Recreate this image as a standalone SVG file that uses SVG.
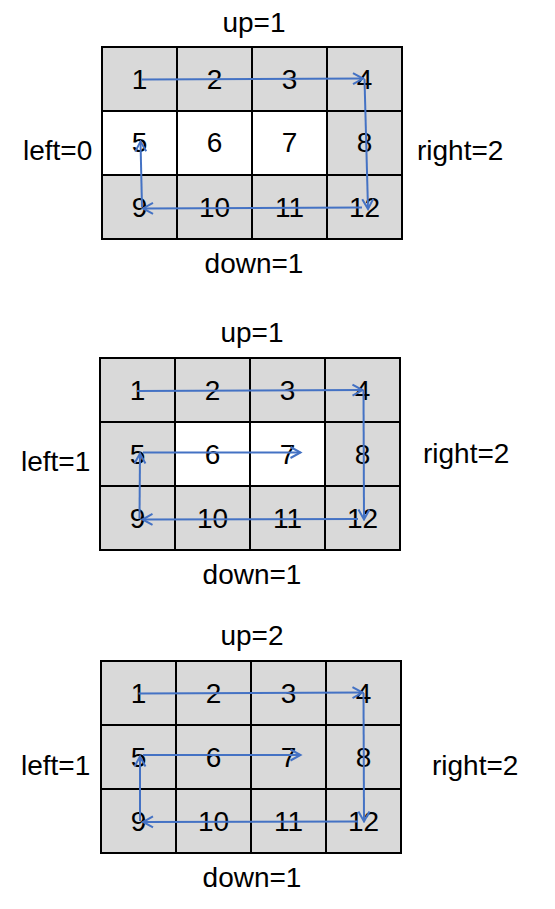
<svg xmlns="http://www.w3.org/2000/svg" width="555" height="909" viewBox="0 0 555 909">
<style>
text{font-family:"Liberation Sans",Arial,sans-serif;font-size:28px;fill:#000}
.n{text-anchor:middle}
.g{fill:#d9d9d9;stroke:#000;stroke-width:2}
.w{fill:#fff;stroke:#000;stroke-width:2}
.a{fill:none;stroke:#4472c4;stroke-width:2;marker-end:url(#ah)}
</style>
<defs>
<marker id="ah" markerUnits="userSpaceOnUse" markerWidth="14" markerHeight="14" refX="12" refY="7" orient="auto">
<path d="M2,1.5 L12,7 L2,12.5" fill="none" stroke="#4472c4" stroke-width="2"/>
</marker>
</defs>
<rect width="555" height="909" fill="#fff"/>

<g id="grid1">
<rect class="g" x="102" y="47" width="75" height="64"/>
<rect class="g" x="177" y="47" width="75" height="64"/>
<rect class="g" x="252" y="47" width="75" height="64"/>
<rect class="g" x="327" y="47" width="75" height="64"/>
<rect class="w" x="102" y="111" width="75" height="64"/>
<rect class="w" x="177" y="111" width="75" height="64"/>
<rect class="w" x="252" y="111" width="75" height="64"/>
<rect class="g" x="327" y="111" width="75" height="64"/>
<rect class="g" x="102" y="175" width="75" height="64"/>
<rect class="g" x="177" y="175" width="75" height="64"/>
<rect class="g" x="252" y="175" width="75" height="64"/>
<rect class="g" x="327" y="175" width="75" height="64"/>
<text class="n" x="139.5" y="89">1</text>
<text class="n" x="214.5" y="89">2</text>
<text class="n" x="289.5" y="89">3</text>
<text class="n" x="364.5" y="89">4</text>
<text class="n" x="139.5" y="152">5</text>
<text class="n" x="214.5" y="152">6</text>
<text class="n" x="289.5" y="152">7</text>
<text class="n" x="364.5" y="152">8</text>
<text class="n" x="139.5" y="217">9</text>
<text class="n" x="214.5" y="217">10</text>
<text class="n" x="289.5" y="217">11</text>
<text class="n" x="364.5" y="217">12</text>
<text class="n" x="254" y="32">up=1</text>
<text class="n" x="254" y="273">down=1</text>
<text x="23" y="160">left=0</text>
<text x="417" y="160">right=2</text>
</g>

<g id="grid2">
<rect class="g" x="100" y="358" width="75" height="64"/>
<rect class="g" x="175" y="358" width="75" height="64"/>
<rect class="g" x="250" y="358" width="75" height="64"/>
<rect class="g" x="325" y="358" width="75" height="64"/>
<rect class="g" x="100" y="422" width="75" height="64"/>
<rect class="w" x="175" y="422" width="75" height="64"/>
<rect class="w" x="250" y="422" width="75" height="64"/>
<rect class="g" x="325" y="422" width="75" height="64"/>
<rect class="g" x="100" y="486" width="75" height="64"/>
<rect class="g" x="175" y="486" width="75" height="64"/>
<rect class="g" x="250" y="486" width="75" height="64"/>
<rect class="g" x="325" y="486" width="75" height="64"/>
<text class="n" x="137.5" y="400">1</text>
<text class="n" x="212.5" y="400">2</text>
<text class="n" x="287.5" y="400">3</text>
<text class="n" x="362.5" y="400">4</text>
<text class="n" x="137.5" y="464">5</text>
<text class="n" x="212.5" y="464">6</text>
<text class="n" x="287.5" y="464">7</text>
<text class="n" x="362.5" y="464">8</text>
<text class="n" x="137.5" y="528">9</text>
<text class="n" x="212.5" y="528">10</text>
<text class="n" x="287.5" y="528">11</text>
<text class="n" x="362.5" y="528">12</text>
<text class="n" x="252" y="342">up=1</text>
<text class="n" x="252" y="584">down=1</text>
<text x="21" y="471">left=1</text>
<text x="423" y="463">right=2</text>
</g>

<g id="grid3">
<rect class="g" x="101" y="661" width="75" height="64"/>
<rect class="g" x="176" y="661" width="75" height="64"/>
<rect class="g" x="251" y="661" width="75" height="64"/>
<rect class="g" x="326" y="661" width="75" height="64"/>
<rect class="g" x="101" y="725" width="75" height="64"/>
<rect class="g" x="176" y="725" width="75" height="64"/>
<rect class="g" x="251" y="725" width="75" height="64"/>
<rect class="g" x="326" y="725" width="75" height="64"/>
<rect class="g" x="101" y="789" width="75" height="64"/>
<rect class="g" x="176" y="789" width="75" height="64"/>
<rect class="g" x="251" y="789" width="75" height="64"/>
<rect class="g" x="326" y="789" width="75" height="64"/>
<text class="n" x="138.5" y="703">1</text>
<text class="n" x="213.5" y="703">2</text>
<text class="n" x="288.5" y="703">3</text>
<text class="n" x="363.5" y="703">4</text>
<text class="n" x="138.5" y="767">5</text>
<text class="n" x="213.5" y="767">6</text>
<text class="n" x="288.5" y="767">7</text>
<text class="n" x="363.5" y="767">8</text>
<text class="n" x="138.5" y="831">9</text>
<text class="n" x="213.5" y="831">10</text>
<text class="n" x="288.5" y="831">11</text>
<text class="n" x="363.5" y="831">12</text>
<text class="n" x="252" y="645">up=2</text>
<text class="n" x="252" y="887">down=1</text>
<text x="21" y="775">left=1</text>
<text x="432" y="775">right=2</text>
</g>

<g id="connectors">
<path class="a" d="M141.5,79.5 L363,78.5"/>
<path class="a" d="M364.5,79 L368,209"/>
<path class="a" d="M362,207.5 L143,208.5"/>
<path class="a" d="M142,207 L140.5,141.5"/>

<path class="a" d="M137,391 L362.5,390"/>
<path class="a" d="M363.5,390 L364,519.5"/>
<path class="a" d="M358,519 L142.5,519.5"/>
<path class="a" d="M139.5,519 L140,453.5"/>
<path class="a" d="M143,452.5 L300.5,452.5"/>

<path class="a" d="M138.5,693.5 L362.5,692.5"/>
<path class="a" d="M363.5,693 L364,821.5"/>
<path class="a" d="M358,821.5 L143,822"/>
<path class="a" d="M140,821 L140,756.5"/>
<path class="a" d="M143,755 L300.5,755"/>
</g>
</svg>
